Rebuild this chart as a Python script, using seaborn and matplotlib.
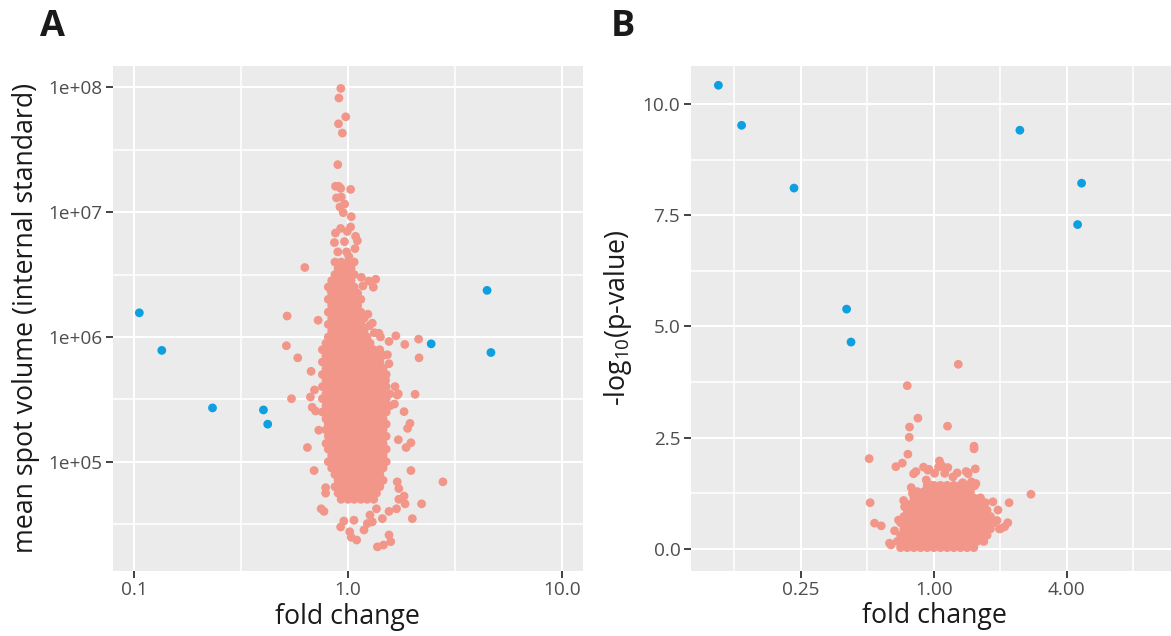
import numpy as np
import pandas as pd
import matplotlib
matplotlib.use("Agg")
import matplotlib.pyplot as plt
import seaborn as sns
from matplotlib.ticker import FixedLocator, FixedFormatter, NullFormatter

# ---------------- data ----------------
# significant proteins (blue), same proteins in both panels
sig_fc = [0.106, 0.135, 0.233, 0.403, 0.422, 2.45, 4.47, 4.66]
sig_vol = [1.56e6, 7.8e5, 2.7e5, 2.6e5, 2.0e5, 8.8e5, 2.36e6, 7.5e5]
sig_logp = [10.42, 9.52, 8.11, 5.39, 4.65, 9.41, 7.29, 8.22]

# panel A: scattered non-significant spots
a_fc = [0.927, 0.908, 0.977, 0.904, 0.942, 0.897, 0.875, 0.906, 0.925, 1.03,
        0.885, 0.931, 0.966, 0.918, 0.951, 1.037, 1.03, 0.875, 0.925, 0.993,
        1.086, 1.107, 0.865, 0.964, 1.079, 0.897, 0.986, 1.01, 0.629, 1.156,
        1.349, 1.315, 1.253, 1.175, 0.83, 1.074, 0.52, 0.726, 1.24, 1.30,
        0.516, 0.583, 1.675, 1.556, 1.845, 2.14, 2.15, 1.396, 1.42, 0.673,
        0.698, 0.668, 0.545, 0.681, 0.706, 0.731, 0.647, 0.695, 0.787, 0.787,
        0.75, 0.773, 0.925, 0.957, 1.02, 1.037, 1.099, 1.067, 1.189, 1.233,
        1.268, 1.30, 1.374, 1.466, 1.556, 1.585, 1.36, 1.449, 1.556, 1.687,
        2.0, 2.21, 1.83, 1.73, 1.85, 2.78, 1.97, 1.70, 1.73, 1.97,
        1.95, 1.90, 1.83, 2.06, 1.70, 1.66, 1.556, 1.53, 1.50, 1.33,
        1.26, 1.72, 1.87, 1.65, 1.72]
a_vol = [9.8e7, 8.2e7, 5.8e7, 5.1e7, 4.3e7, 2.4e7, 1.61e7, 1.61e7, 1.55e7, 1.52e7,
         1.30e7, 1.32e7, 1.16e7, 1.10e7, 9.9e6, 9.2e6, 7.6e6, 6.8e6, 7.4e6, 7.0e6,
         6.4e6, 5.9e6, 5.7e6, 5.8e6, 5.1e6, 4.8e6, 4.8e6, 4.4e6, 3.6e6, 3.0e6,
         2.9e6, 2.5e6, 2.8e6, 2.56e6, 2.4e6, 2.26e6, 1.47e6, 1.36e6, 1.52e6, 1.29e6,
         8.5e5, 6.8e5, 1.02e6, 9.2e5, 8.7e5, 9.6e5, 6.8e5, 1.07e6, 1.0e6, 5.3e5,
         3.76e5, 3.3e5, 3.2e5, 2.73e5, 2.55e5, 1.79e5, 1.30e5, 8.5e4, 6.2e4, 5.6e4,
         4.2e4, 4.0e4, 3.0e4, 3.35e4, 2.75e4, 2.48e4, 2.36e4, 3.4e4, 2.84e4, 3.2e4,
         3.74e4, 3.3e4, 2.08e4, 2.15e4, 2.59e4, 2.29e4, 4.2e4, 3.5e4, 4.0e4, 4.2e4,
         3.5e4, 4.6e4, 5.3e4, 5.0e4, 4.6e4, 6.9e4, 8.5e4, 6.9e4, 6.1e4, 1.42e5,
         2.03e5, 1.85e5, 2.52e5, 3.47e5, 3.42e5, 4.0e5, 6.1e5, 7.2e5, 4.5e5, 1.08e6,
         1.23e6, 1.5e5, 1.3e5, 2.9e5, 3.5e5]

# panel A: dense core, read row by row (volume level -> fold changes)
a_core_vol = [3.98e6, 3.55e6, 3.16e6, 2.82e6, 2.51e6, 2.24e6, 2.00e6, 1.78e6,
              1.58e6, 1.41e6, 1.26e6, 1.12e6, 1.00e6, 8.9e5, 7.9e5, 7.1e5,
              6.3e5, 5.6e5, 5.0e5, 4.5e5, 4.0e5, 3.5e5, 3.2e5, 2.8e5, 2.5e5,
              2.2e5, 2.0e5, 1.8e5, 1.6e5, 1.4e5, 1.26e5, 1.12e5, 1.0e5, 8.9e4,
              7.9e4, 7.1e4, 6.3e4, 5.6e4, 5.0e4]
a_core_fc = [
    [0.87, 0.93, 1.00, 1.07],
    [0.90, 0.97, 1.035],
    [0.87, 0.93, 1.00, 1.07],
    [0.84, 0.90, 0.97, 1.035],
    [0.81, 0.87, 0.93, 1.00, 1.07],
    [0.84, 0.90, 0.97, 1.035, 1.11],
    [0.81, 0.87, 0.93, 1.00, 1.07, 1.15],
    [0.84, 0.90, 0.97, 1.035, 1.11],
    [0.81, 0.87, 0.93, 1.00, 1.07, 1.15],
    [0.84, 0.90, 0.97, 1.035, 1.11, 1.19],
    [0.81, 0.87, 0.93, 1.00, 1.07, 1.15],
    [0.84, 0.90, 0.97, 1.035, 1.11, 1.19],
    [0.81, 0.87, 0.93, 1.00, 1.07, 1.15, 1.23],
    [0.79, 0.84, 0.90, 0.97, 1.035, 1.11, 1.19, 1.27],
    [0.76, 0.81, 0.87, 0.93, 1.00, 1.07, 1.15, 1.23, 1.32, 1.41],
    [0.79, 0.84, 0.90, 0.97, 1.035, 1.11, 1.19, 1.27, 1.36, 1.46],
    [0.76, 0.81, 0.87, 0.93, 1.00, 1.07, 1.15, 1.23, 1.32, 1.41],
    [0.79, 0.84, 0.90, 0.97, 1.035, 1.11, 1.19, 1.27, 1.36, 1.46],
    [0.76, 0.81, 0.87, 0.93, 1.00, 1.07, 1.15, 1.23, 1.32, 1.41, 1.51],
    [0.79, 0.84, 0.90, 0.97, 1.035, 1.11, 1.19, 1.27, 1.36, 1.46],
    [0.76, 0.81, 0.87, 0.93, 1.00, 1.07, 1.15, 1.23, 1.32, 1.41, 1.51],
    [0.79, 0.84, 0.90, 0.97, 1.035, 1.11, 1.19, 1.27, 1.36, 1.46, 1.57],
    [0.76, 0.81, 0.87, 0.93, 1.00, 1.07, 1.15, 1.23, 1.32, 1.41, 1.51],
    [0.79, 0.84, 0.90, 0.97, 1.035, 1.11, 1.19, 1.27, 1.36, 1.46, 1.57],
    [0.76, 0.81, 0.87, 0.93, 1.00, 1.07, 1.15, 1.23, 1.32, 1.41, 1.51],
    [0.79, 0.84, 0.90, 0.97, 1.035, 1.11, 1.19, 1.27, 1.36, 1.46],
    [0.81, 0.87, 0.93, 1.00, 1.07, 1.15, 1.23, 1.32, 1.41, 1.51],
    [0.79, 0.84, 0.90, 0.97, 1.035, 1.11, 1.19, 1.27, 1.36, 1.46],
    [0.81, 0.87, 0.93, 1.00, 1.07, 1.15, 1.23, 1.32, 1.41, 1.51],
    [0.79, 0.84, 0.90, 0.97, 1.035, 1.11, 1.19, 1.27, 1.36, 1.46],
    [0.81, 0.87, 0.93, 1.00, 1.07, 1.15, 1.23, 1.32, 1.41, 1.51],
    [0.84, 0.90, 0.97, 1.035, 1.11, 1.19, 1.27, 1.36, 1.46],
    [0.81, 0.87, 0.93, 1.00, 1.07, 1.15, 1.23, 1.32, 1.41, 1.51],
    [0.84, 0.90, 0.97, 1.035, 1.11, 1.19, 1.27, 1.36, 1.46],
    [0.87, 0.93, 1.00, 1.07, 1.15, 1.23, 1.32, 1.41],
    [0.90, 0.97, 1.035, 1.11, 1.19, 1.27, 1.36, 1.46],
    [0.87, 0.93, 1.00, 1.07, 1.15, 1.23, 1.32, 1.41],
    [0.90, 0.97, 1.035, 1.11, 1.19, 1.27, 1.36],
    [0.93, 1.00, 1.07, 1.15, 1.23, 1.32],
]

# panel B: scattered non-significant spots
b_fc = [1.29, 0.758, 0.847, 0.776, 1.153, 0.774, 1.52, 1.52, 0.51, 0.763,
        0.673, 0.72, 0.81, 0.83, 0.898, 0.95, 1.06, 1.087, 1.157, 1.275,
        1.40, 1.54, 1.43, 1.007, 1.12, 1.22, 2.75, 2.19, 0.515, 1.71,
        1.85, 1.95, 0.539, 0.578, 0.692, 0.664, 0.63, 0.64, 2.16, 2.09,
        1.98, 1.53, 1.48, 1.35, 0.924, 0.956, 0.80, 0.73, 0.737, 0.94,
        1.05, 1.42, 1.55, 0.79, 1.93, 2.01]
b_logp = [4.15, 3.67, 2.94, 2.74, 2.76, 2.51, 2.31, 2.25, 2.03, 2.13,
          1.85, 1.93, 1.69, 1.74, 1.84, 1.79, 1.98, 1.87, 1.83, 1.71,
          1.74, 1.80, 1.69, 1.70, 1.70, 1.62, 1.23, 1.04, 1.04, 1.04,
          1.06, 0.876, 0.58, 0.52, 0.65, 0.41, 0.13, 0.09, 0.59, 0.50,
          0.45, 1.42, 1.51, 1.49, 1.55, 1.44, 1.25, 1.09, 0.95, 1.77,
          1.84, 1.72, 1.47, 1.38, 0.64, 0.46]

# panel B: dense core, row by row (-log10 p level -> fold changes)
b_core_logp = [0.03, 0.17, 0.31, 0.45, 0.59, 0.73, 0.87, 1.01, 1.15, 1.29, 1.43]
b_core_fc = [
    [0.707, 0.758, 0.812, 0.871, 0.933, 1.0, 1.072, 1.149, 1.231, 1.320, 1.414, 1.516],
    [0.683, 0.732, 0.785, 0.841, 0.901, 0.966, 1.035, 1.110, 1.189, 1.275, 1.366, 1.464, 1.569, 1.682],
    [0.707, 0.758, 0.812, 0.871, 0.933, 1.0, 1.072, 1.149, 1.231, 1.320, 1.414, 1.516, 1.625, 1.741],
    [0.732, 0.785, 0.841, 0.901, 0.966, 1.035, 1.110, 1.189, 1.275, 1.366, 1.464, 1.569, 1.682, 1.803],
    [0.707, 0.758, 0.812, 0.871, 0.933, 1.0, 1.072, 1.149, 1.231, 1.320, 1.414, 1.516, 1.625, 1.741, 1.866],
    [0.732, 0.785, 0.841, 0.901, 0.966, 1.035, 1.110, 1.189, 1.275, 1.366, 1.464, 1.569, 1.682, 1.803],
    [0.758, 0.812, 0.871, 0.933, 1.0, 1.072, 1.149, 1.231, 1.320, 1.414, 1.516, 1.625, 1.741],
    [0.785, 0.841, 0.901, 0.966, 1.035, 1.110, 1.189, 1.275, 1.366, 1.464, 1.569, 1.682],
    [0.812, 0.871, 0.933, 1.0, 1.072, 1.149, 1.231, 1.320, 1.414, 1.516, 1.625],
    [0.841, 0.901, 0.966, 1.035, 1.110, 1.189, 1.275, 1.366, 1.464],
    [0.933, 1.0, 1.072, 1.149, 1.231, 1.320, 1.414],
]

# tick labels
a_xticks = [0.1, 1.0, 10.0]
a_xticklabels = ["0.1", "1.0", "10.0"]
a_yticks = [1e5, 1e6, 1e7, 1e8]
a_yticklabels = ["1e+05", "1e+06", "1e+07", "1e+08"]
b_xticks = [0.25, 1.0, 4.0]
b_xticklabels = ["0.25", "1.00", "4.00"]
b_yticks = [0.0, 2.5, 5.0, 7.5, 10.0]
b_yticklabels = ["0.0", "2.5", "5.0", "7.5", "10.0"]

# ---------------- build frames ----------------
core_a_x = [f for row in a_core_fc for f in row]
core_a_y = [v for v, row in zip(a_core_vol, a_core_fc) for _ in row]
dfA = pd.DataFrame({
    "fc": a_fc + core_a_x + sig_fc,
    "vol": a_vol + core_a_y + sig_vol,
    "grp": ["ns"] * (len(a_fc) + len(core_a_x)) + ["sig"] * len(sig_fc),
})
core_b_x = [f for row in b_core_fc for f in row]
core_b_y = [v for v, row in zip(b_core_logp, b_core_fc) for _ in row]
dfB = pd.DataFrame({
    "fc": b_fc + core_b_x + sig_fc,
    "logp": b_logp + core_b_y + sig_logp,
    "grp": ["ns"] * (len(b_fc) + len(core_b_x)) + ["sig"] * len(sig_fc),
})

PINK = "#F2968A"
BLUE = "#0E9FE0"
pal = {"ns": PINK, "sig": BLUE}

# ---------------- style ----------------
sns.set_theme(style="darkgrid")
plt.rcParams["font.family"] = ["Open Sans", "DejaVu Sans"]
plt.rcParams["mathtext.fontset"] = "custom"
plt.rcParams["mathtext.rm"] = "Open Sans"
plt.rcParams["mathtext.it"] = "Open Sans"
plt.rcParams["mathtext.bf"] = "Open Sans:bold"

W, H = 1171, 636
fig = plt.figure(figsize=(W / 100, H / 100), dpi=100)
fig.patch.set_facecolor("white")
top, bot = 65.7, 570.7
axA = fig.add_axes([112.5 / W, 1 - bot / H, 470.8 / W, (bot - top) / H])
axB = fig.add_axes([690.7 / W, 1 - bot / H, 486.3 / W, (bot - top) / H])

axA.set_xscale("log")
axA.set_yscale("log")
axB.set_xscale("log", base=2)

MS = 40
sns.scatterplot(data=dfA, x="fc", y="vol", hue="grp", palette=pal, s=MS,
                linewidth=0, legend=False, ax=axA)
sns.scatterplot(data=dfB, x="fc", y="logp", hue="grp", palette=pal, s=MS,
                linewidth=0, legend=False, ax=axB)

axA.set_xlim(10 ** -1.1, 10 ** 1.1)
axA.set_ylim(10 ** 4.127, 10 ** 8.173)
axB.set_xlim(2 ** -3.654, 2 ** 3.654)
axB.set_ylim(-0.488, 10.86)


def style(ax, xt, xtl, xminor, yt, ytl, yminor):
    ax.set_facecolor("#EBEBEB")
    for s in ax.spines.values():
        s.set_visible(False)
    ax.xaxis.set_major_locator(FixedLocator(xt))
    ax.xaxis.set_major_formatter(FixedFormatter(xtl))
    ax.xaxis.set_minor_locator(FixedLocator(xminor))
    ax.xaxis.set_minor_formatter(NullFormatter())
    ax.yaxis.set_major_locator(FixedLocator(yt))
    ax.yaxis.set_major_formatter(FixedFormatter(ytl))
    ax.yaxis.set_minor_locator(FixedLocator(yminor))
    ax.yaxis.set_minor_formatter(NullFormatter())
    ax.grid(which="major", color="white", linewidth=1.5)
    ax.grid(which="minor", color="white", linewidth=1.1)
    ax.set_axisbelow(True)
    ax.tick_params(which="major", length=5, width=1.3, color="#333333",
                   labelsize=13.7, labelcolor="#4D4D4D", pad=2.5,
                   bottom=True, left=True)
    ax.tick_params(which="minor", length=0)


style(axA, a_xticks, a_xticklabels, [10 ** -0.5, 10 ** 0.5],
      a_yticks, a_yticklabels, [10 ** 4.5, 10 ** 5.5, 10 ** 6.5, 10 ** 7.5])
style(axB, b_xticks, b_xticklabels, [0.125, 0.5, 2.0, 8.0],
      b_yticks, b_yticklabels, [1.25, 3.75, 6.25, 8.75])

lab = dict(fontsize=19.3, color="#1A1A1A")
axA.set_xlabel("fold change", labelpad=3, **lab)
axA.set_ylabel("mean spot volume (internal standard)", labelpad=6, **lab)
axB.set_xlabel("fold change", labelpad=3, **lab)
axB.set_ylabel("-log$_{10}$(p-value)", labelpad=6, **lab)
# B x-label centred on the visible part of the panel, as in the original
axB.xaxis.set_label_coords((934.3 - 690.7) / 486.3, -0.062)

fig.text(40 / W, 1 - 36 / H, "A", fontsize=26, fontweight="bold",
         color="#1A1A1A", ha="left", va="baseline")
fig.text(611 / W, 1 - 36 / H, "B", fontsize=26, fontweight="bold",
         color="#1A1A1A", ha="left", va="baseline")

fig.savefig("out.png", dpi=100)
